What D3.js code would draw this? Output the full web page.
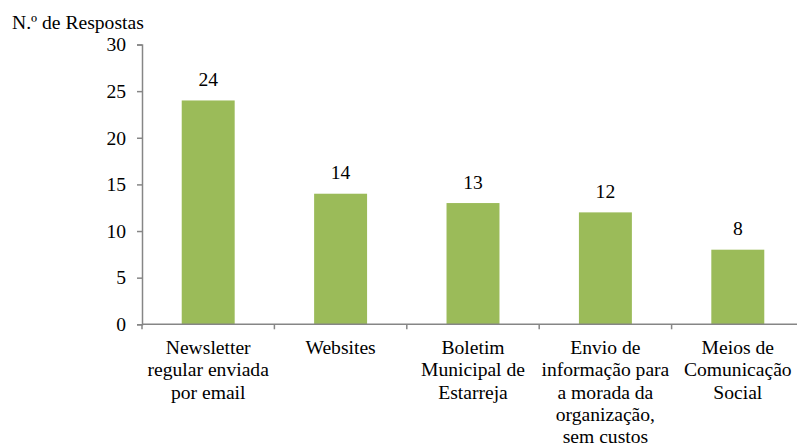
<!DOCTYPE html>
<html>
<head>
<meta charset="utf-8">
<script src="https://cdn.jsdelivr.net/npm/d3@7"></script>
<style>
  html, body { margin: 0; padding: 0; background: #fff; }
  svg { display: block; }
  text { font-family: "Liberation Serif", "Times New Roman", serif; fill: #000; }
</style>
</head>
<body>
<svg id="chart" width="797" height="445"></svg>
<script>
// Respostas por meio de comunicação preferido
const categories = [
  "Newsletter regular enviada por email",
  "Websites",
  "Boletim Municipal de Estarreja",
  "Envio de informação para a morada da organização, sem custos",
  "Meios de Comunicação Social"
];
const categoryLines = [
  ["Newsletter", "regular enviada", "por email"],
  ["Websites"],
  ["Boletim", "Municipal de", "Estarreja"],
  ["Envio de", "informação para", "a morada da", "organização,", "sem custos"],
  ["Meios de", "Comunicação", "Social"]
];
const values = [24, 14, 13, 12, 8];
const yTicks = [0, 5, 10, 15, 20, 25, 30];
const yTitle = "N.º de Respostas";

const svg = d3.select("#chart");
const fontSize = 19.6;
const axisColor = "#868686";
const barColor = "#9BBB59";

const x0 = 142, x1 = 804, yBottom = 324.3, yTop = 44.5;

const x = d3.scaleBand().domain(categories).range([x0, x1]).padding(0);
const y = d3.scaleLinear().domain([0, 30]).range([yBottom, yTop]);
const barW = x.bandwidth() * 0.4;

// Barras
svg.append("g").selectAll("rect")
  .data(values)
  .join("rect")
  .attr("x", (d, i) => x(categories[i]) + (x.bandwidth() - barW) / 2)
  .attr("y", d => y(d))
  .attr("width", barW)
  .attr("height", d => y(0) - y(d))
  .attr("fill", barColor);

// Rótulos de valor
svg.append("g").selectAll("text")
  .data(values)
  .join("text")
  .attr("x", (d, i) => x(categories[i]) + x.bandwidth() / 2)
  .attr("y", d => y(d) - 14.5)
  .attr("text-anchor", "middle")
  .attr("font-size", fontSize)
  .text(d => d);

// Eixo Y
const yAxis = svg.append("g")
  .attr("transform", `translate(${x0},0)`)
  .call(d3.axisLeft(y).tickValues(yTicks).tickSize(5).tickPadding(11).tickFormat(d3.format("d")));
yAxis.select(".domain").attr("stroke", axisColor).attr("stroke-width", 1.5);
yAxis.selectAll(".tick line").attr("stroke", axisColor).attr("stroke-width", 1.5);
yAxis.selectAll(".tick text")
  .attr("font-size", fontSize)
  .attr("fill", "#000");

// Eixo X
const xAxis = svg.append("g")
  .attr("transform", `translate(0,${yBottom})`)
  .call(d3.axisBottom(x).tickSize(0).tickFormat(""));
xAxis.select(".domain").attr("stroke", axisColor).attr("stroke-width", 1.5).attr("d", `M${x0},0H${x1}`);
xAxis.selectAll(".tick").remove();
// Marcas entre categorias
const boundaries = categories.map(c => x(c)).concat([x1]);
xAxis.selectAll("line.sep")
  .data(boundaries)
  .join("line")
  .attr("class", "sep")
  .attr("x1", d => d).attr("x2", d => d)
  .attr("y1", 0).attr("y2", 5)
  .attr("stroke", axisColor)
  .attr("stroke-width", 1.5);

// Rótulos das categorias
const lineH = 22.4;
const labels = svg.append("g").selectAll("text")
  .data(categoryLines)
  .join("text")
  .attr("text-anchor", "middle")
  .attr("font-size", fontSize)
  .attr("transform", (d, i) => `translate(${x(categories[i]) + x.bandwidth() / 2},${yBottom + 29.5})`);
labels.selectAll("tspan")
  .data(d => d)
  .join("tspan")
  .attr("x", 0)
  .attr("y", (d, j) => j * lineH)
  .text(d => d);

// Título do eixo Y
svg.append("text")
  .attr("x", 12)
  .attr("y", 29)
  .attr("font-size", fontSize)
  .text(yTitle);
</script>
</body>
</html>
